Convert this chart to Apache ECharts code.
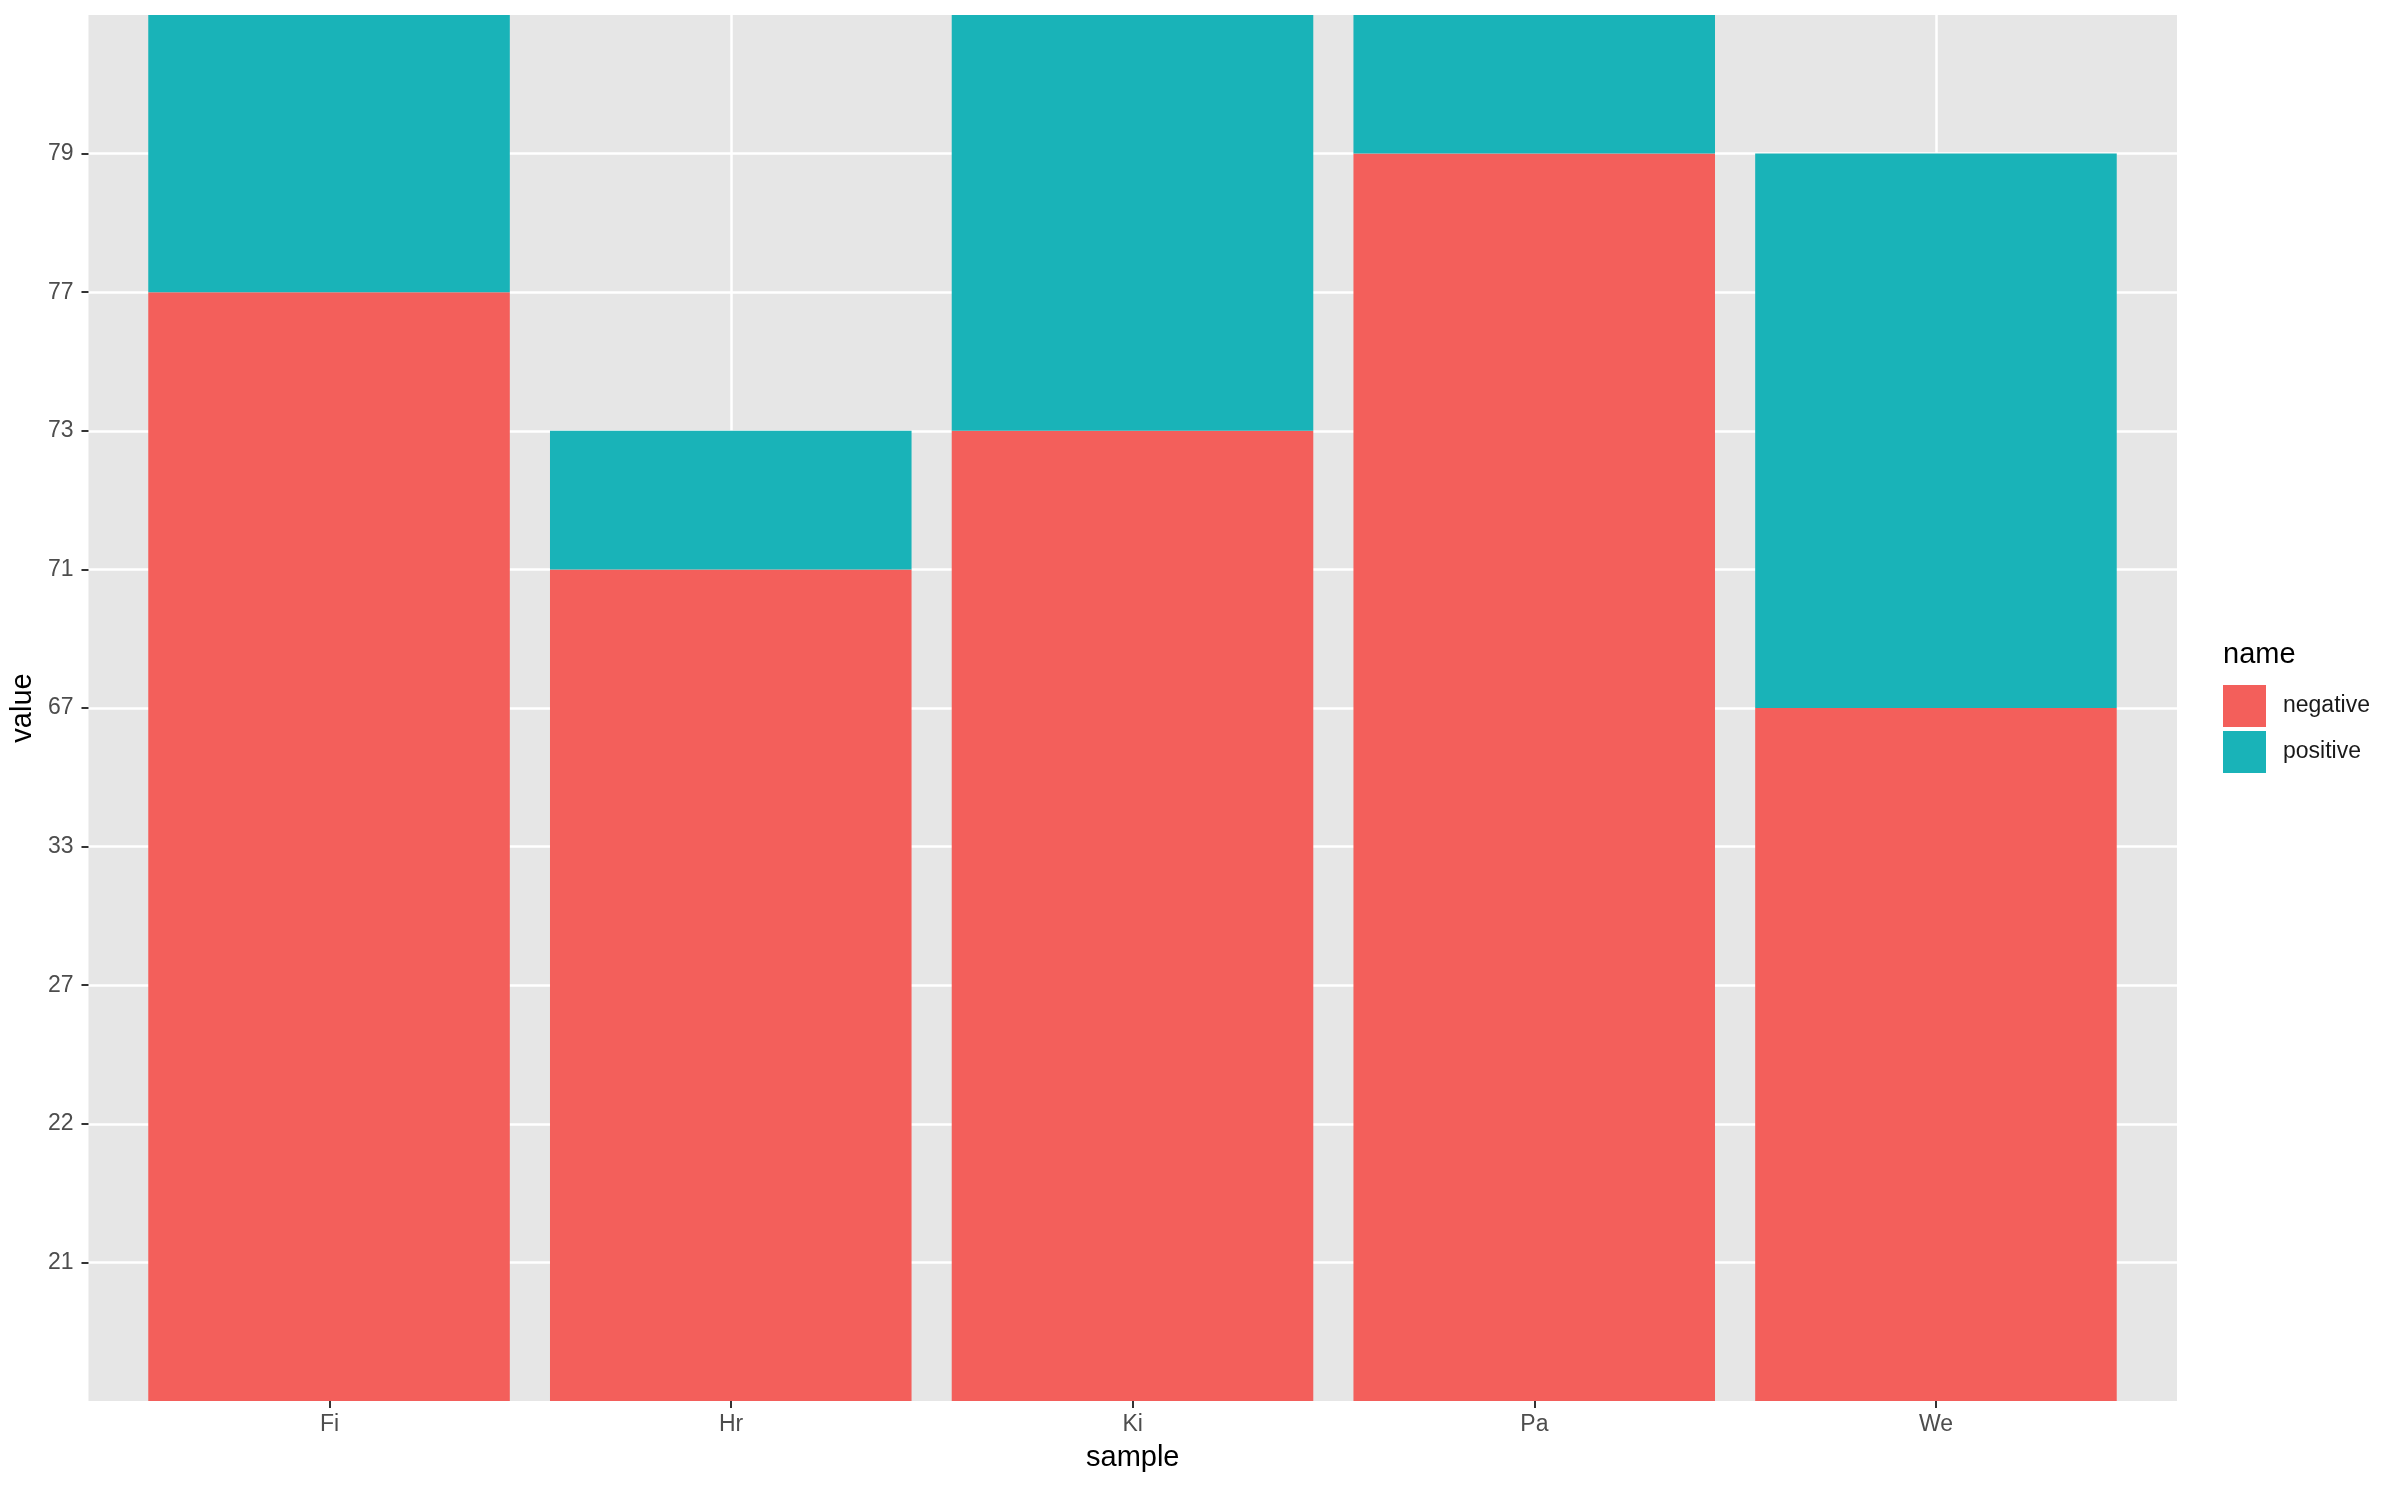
<!DOCTYPE html>
<html>
<head>
<meta charset="utf-8">
<script src="https://cdn.jsdelivr.net/npm/echarts@6/dist/echarts.min.js"></script>
<style>html,body{margin:0;padding:0;background:#fff;}#c{width:2400px;height:1486px;}</style>
</head>
<body>
<div id="c"></div>
<script>
const samples = ['Fi', 'Hr', 'Ki', 'Pa', 'We'];
const yLevels = ['21', '22', '27', '33', '67', '71', '73', '77', '79'];
const negative = ['77', '71', '73', '79', '67'];
const positive = ['22', '21', '27', '21', '33'];

const RED = '#F35F5B';
const TEAL = '#19B3B8';
const lvl = v => yLevels.indexOf(v) + 1;
const tickIdx = samples.map((s, i) => i);
const yIdx = yLevels.map((s, i) => i + 1);

// panel: discrete x scale expanded by 0.6 on each side
const L = 88, R = 223, T = 15, B = 85, W = 2400;
const unit = (W - L - R) / (samples.length - 1 + 1.2);
const L2 = L + 0.1 * unit, R2 = R + 0.1 * unit;

const chart = echarts.init(document.getElementById('c'));
chart.setOption({
  backgroundColor: '#fff',
  animation: false,
  textStyle: { fontFamily: 'Liberation Sans, Arial, sans-serif' },
  grid: [
    { left: L, right: R, top: T, bottom: B, show: true, backgroundColor: '#E6E6E6', borderWidth: 0 },
    { left: L2, right: R2, top: T, bottom: B, show: false }
  ],
  legend: {
    orient: 'vertical', left: 2218, top: 680,
    itemWidth: 43, itemHeight: 42, itemGap: 4,
    icon: 'rect',
    textStyle: { fontSize: 23, color: '#1a1a1a', padding: [0, 0, 0, 12] },
    data: ['negative', 'positive']
  },
  graphic: [{
    type: 'text', left: 2223, top: 640,
    style: { text: 'name', fontSize: 29, fill: '#000', fontFamily: 'Liberation Sans, Arial, sans-serif' }
  }],
  xAxis: [{
    gridIndex: 0, type: 'value', min: -0.6, max: 4.6,
    name: 'sample', nameLocation: 'middle', nameGap: 42,
    nameTextStyle: { fontSize: 29, color: '#000' },
    axisLine: { show: false, onZero: false },
    axisTick: { show: true, customValues: tickIdx, length: 7, lineStyle: { color: '#333', width: 2 } },
    axisLabel: { customValues: tickIdx, margin: 12, fontSize: 23, color: '#4D4D4D', formatter: v => samples[Math.round(v)] },
    splitLine: { show: true, lineStyle: { color: '#fff', width: 2.5 } }
  }, {
    gridIndex: 1, type: 'category', data: samples, boundaryGap: true, show: false
  }],
  yAxis: [{
    gridIndex: 0, type: 'value', min: 0, max: 10,
    name: 'value', nameLocation: 'middle', nameGap: 48,
    nameTextStyle: { fontSize: 29, color: '#000' },
    axisLine: { show: false, onZero: false },
    axisTick: { show: true, customValues: yIdx, length: 7, lineStyle: { color: '#333', width: 2 } },
    axisLabel: { customValues: yIdx, margin: 15, fontSize: 23, color: '#4D4D4D', formatter: v => yLevels[Math.round(v) - 1] },
    splitLine: { show: true, lineStyle: { color: '#fff', width: 2.5 } }
  }, {
    gridIndex: 1, type: 'value', min: 0, max: 10, show: false, splitLine: { show: false }
  }],
  series: [
    { name: 'negative', type: 'bar', stack: 'a', xAxisIndex: 1, yAxisIndex: 1, barWidth: '90%', itemStyle: { color: RED },
      data: negative.map(v => lvl(v)) },
    { name: 'positive', type: 'bar', stack: 'a', xAxisIndex: 1, yAxisIndex: 1, barWidth: '90%', itemStyle: { color: TEAL },
      data: positive.map(v => lvl(v)) }
  ]
});
</script>
</body>
</html>
